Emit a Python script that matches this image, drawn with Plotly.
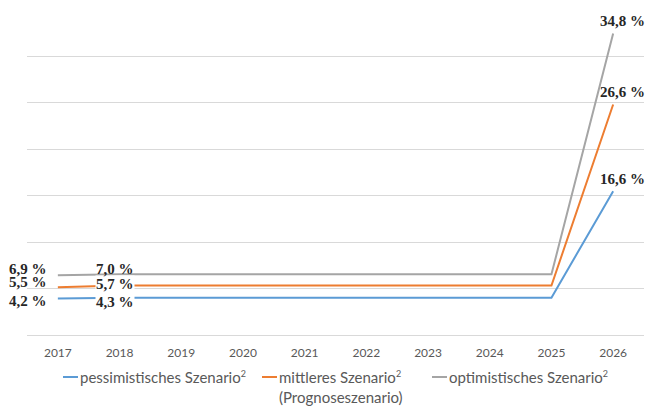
import plotly.graph_objects as go

# Years on the category axis
years = ["2017", "2018", "2019", "2020", "2021", "2022", "2023", "2024", "2025", "2026"]

# Scenario series (percent)
pessimistic = [4.2, 4.3, 4.3, 4.3, 4.3, 4.3, 4.3, 4.3, 4.3, 16.6]
middle = [5.5, 5.7, 5.7, 5.7, 5.7, 5.7, 5.7, 5.7, 5.7, 26.6]
optimistic = [6.9, 7.0, 7.0, 7.0, 7.0, 7.0, 7.0, 7.0, 7.0, 34.8]

SUP2 = "<sup><span style='font-size:9px'>2</span></sup>"
names = [
    "pessimistisches Szenario" + SUP2,
    "mittleres Szenario" + SUP2 + "<br>(Prognoseszenario)",
    "optimistisches Szenario" + SUP2,
]
colors = ["#5B9BD5", "#ED7D31", "#A5A5A5"]
series = [pessimistic, middle, optimistic]

W, H = 649, 407
M_L, M_R, M_T, M_B = 27, 5, 10, 72
PLOT_W, PLOT_H = W - M_L - M_R, H - M_T - M_B

LABEL_FONT = dict(family="Liberation Serif, DejaVu Serif, serif", size=15, color="#262626")
LEGEND_FONT = dict(family="Lato, Open Sans, sans-serif", size=15, color="#595959")


def fmt(v):
    return f"{v:.1f}".replace(".", ",") + " %"


def px_x(px):
    """Horizontal pixel position -> paper fraction."""
    return (px - M_L) / PLOT_W


def px_y(py):
    """Vertical pixel position (from top) -> paper fraction."""
    return (H - M_B - py) / PLOT_H


fig = go.Figure()
for name, color, vals in zip(names, colors, series):
    fig.add_trace(go.Scatter(
        x=years, y=vals, mode="lines", name=name,
        line=dict(color=color, width=2),
        hoverinfo="skip", showlegend=False,
    ))

# Vertical offsets (px) keeping the stacked labels apart
yoff_left = [-2, 5, 6]      # pessimistic, middle, optimistic at 2017
yoff_second = [-4, 2, 5]    # at 2018
bg_second = ["white", "white", "rgba(0,0,0,0)"]

first, second, last = 0, 1, len(years) - 1

annotations = []
for i, vals in enumerate(series):
    # first year: label to the left of the line start
    annotations.append(dict(
        x=first, y=vals[first], xref="x", yref="y",
        text="<b>" + fmt(vals[first]) + "</b>", showarrow=False,
        xanchor="right", yanchor="middle", xshift=-9, yshift=yoff_left[i],
        font=LABEL_FONT,
    ))
    # second year: label sitting on the line
    annotations.append(dict(
        x=second, y=vals[second], xref="x", yref="y",
        text="<b>" + fmt(vals[second]) + "</b>", showarrow=False,
        xanchor="center", yanchor="middle", xshift=-5, yshift=yoff_second[i],
        font=LABEL_FONT, bgcolor=bg_second[i], borderpad=0,
    ))
    # last year: label above the end point
    annotations.append(dict(
        x=last, y=vals[last], xref="x", yref="y",
        text="<b>" + fmt(vals[last]) + "</b>", showarrow=False,
        xanchor="center", yanchor="bottom", xshift=9, yshift=2,
        font=LABEL_FONT,
    ))

# Legend below the plot: short line sample followed by its text
legend_left = [63, 262, 432]
legend_row_y = 377
sample_len = 15
shapes = []
for name, color, lx in zip(names, colors, legend_left):
    shapes.append(dict(
        type="line", xref="paper", yref="paper",
        x0=px_x(lx), x1=px_x(lx + sample_len),
        y0=px_y(legend_row_y), y1=px_y(legend_row_y),
        line=dict(color=color, width=2),
    ))
    annotations.append(dict(
        x=px_x(lx + sample_len + 1), y=px_y(legend_row_y - 10), xref="paper", yref="paper",
        text=name, showarrow=False, xanchor="left", yanchor="top", align="left",
        font=LEGEND_FONT, borderpad=0,
    ))

fig.update_layout(
    width=W, height=H,
    margin=dict(l=M_L, r=M_R, t=M_T, b=M_B, autoexpand=False),
    paper_bgcolor="white", plot_bgcolor="white",
    font=dict(family="Lato, Open Sans, sans-serif", size=12, color="#595959"),
    showlegend=False,
    annotations=annotations,
    shapes=shapes,
)
fig.update_xaxes(
    type="category", range=[-0.5, len(years) - 0.5],
    showgrid=False, zeroline=False, showline=False,
    ticks="", ticklabelstandoff=9,
    tickfont=dict(family="Lato, Open Sans, sans-serif", size=12, color="#595959"),
)
fig.update_yaxes(
    range=[0, 37.5], tick0=0, dtick=37.5 / 7,
    showgrid=True, gridcolor="#D9D9D9", gridwidth=1,
    zeroline=True, zerolinecolor="#D9D9D9", zerolinewidth=1,
    showticklabels=False, ticks="", showline=False,
)

fig.write_html("out.html")
